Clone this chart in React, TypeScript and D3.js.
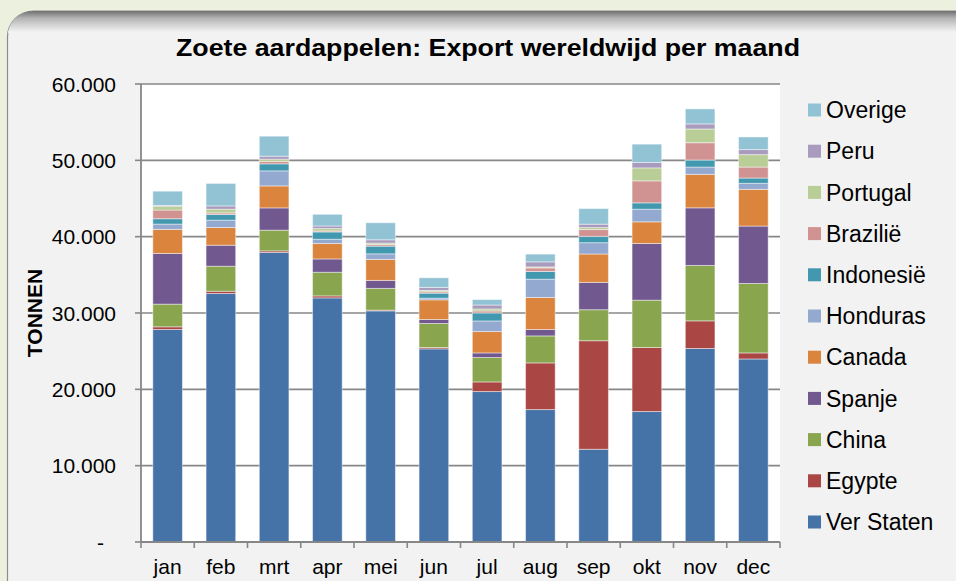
import React from "react";
import * as d3 from "d3";

const months = ["jan", "feb", "mrt", "apr", "mei", "jun", "jul", "aug", "sep", "okt", "nov", "dec"];
const seriesNames = ["Ver Staten", "Egypte", "China", "Spanje", "Canada", "Honduras", "Indonesië", "Brazilië", "Portugal", "Peru", "Overige"];
const seriesColors = ["#4572A7", "#AA4643", "#89A54E", "#71588F", "#DB843D", "#93A9CF", "#4198AF", "#D19392", "#B9CD96", "#A99BBD", "#92C3D4"];

const verStaten = [27840, 32550, 37930, 31980, 30280, 25300, 19710, 17350, 12150, 17090, 25350, 23980];
const egypte = [350, 300, 210, 260, 100, 180, 1260, 6110, 14220, 8390, 3620, 790];
const china = [2970, 3280, 2710, 3100, 2840, 3150, 3200, 3540, 4060, 6200, 7260, 9100];
const spanje = [6640, 2750, 2920, 1740, 1050, 520, 600, 840, 3580, 7430, 7550, 7520];
const canada = [3150, 2320, 2880, 2020, 2750, 2570, 2800, 4190, 3720, 2830, 4380, 4810];
const honduras = [700, 960, 1970, 560, 730, 220, 1390, 2400, 1480, 1660, 960, 790];
const indonesie = [700, 750, 920, 960, 1010, 660, 1050, 1010, 830, 830, 920, 690];
const brazilie = [1140, 210, 310, 130, 200, 180, 260, 470, 890, 2880, 2270, 1440];
const portugal = [500, 480, 300, 310, 200, 180, 260, 130, 260, 1700, 1800, 1630];
const peru = [100, 430, 390, 340, 430, 390, 520, 660, 450, 710, 660, 660];
const overige = [1870, 2940, 2620, 1530, 2230, 1260, 710, 1010, 2040, 2400, 1970, 1650];

const seriesValues = [verStaten, egypte, china, spanje, canada, honduras, indonesie, brazilie, portugal, peru, overige];
const yTicks = [0, 10000, 20000, 30000, 40000, 50000, 60000];

const W = 956;
const H = 581;
const plotLeft = 141;
const plotRight = 780;
const plotTop = 84;
const plotBottom = 542;
const font = "'Liberation Sans', Arial, sans-serif";

export default function App() {
  const x = d3.scaleBand<string>().domain(months).range([plotLeft, plotRight]).paddingInner(0.444).paddingOuter(0.222);
  const y = d3.scaleLinear().domain([0, 60000]).range([plotBottom, plotTop]);

  const table = months.map((m, i) => {
    const row: Record<string, any> = { month: m };
    seriesNames.forEach((s, j) => (row[s] = seriesValues[j][i]));
    return row;
  });
  const stacked = d3.stack<any>().keys(seriesNames)(table);

  const fmt = (v: number) => (v === 0 ? "-" : d3.format(",")(v).replace(/,/g, "."));
  const step = x.step();

  return (
    <svg width={W} height={H} style={{ position: "absolute", left: 0, top: 0, display: "block" }}>
      <defs>
        <linearGradient id="topShade" gradientUnits="userSpaceOnUse" x1="0" y1="11" x2="0" y2="32">
          <stop offset="0" stopColor="#6f6f6f" />
          <stop offset="0.35" stopColor="#b5b5b5" />
          <stop offset="1" stopColor="#f2f2f2" />
        </linearGradient>
        <clipPath id="panelClip">
          <rect x={7.5} y={11} width={975} height={620} rx={26} ry={26} />
        </clipPath>
      </defs>
      <rect x={0} y={0} width={W} height={H} fill="#EBF1DE" />
      <rect x={7.5} y={11} width={975} height={620} rx={26} ry={26} fill="#f2f2f2" stroke="#8c8c8c" strokeWidth={1.2} />
      <g clipPath="url(#panelClip)">
        <rect x={0} y={11} width={W} height={22} fill="url(#topShade)" />
      </g>

      <text x={488} y={56} textAnchor="middle" fontFamily={font} fontWeight="bold" fontSize={24} textLength={624} lengthAdjust="spacingAndGlyphs">
        Zoete aardappelen: Export wereldwijd per maand
      </text>

      <rect x={plotLeft} y={plotTop} width={plotRight - plotLeft} height={plotBottom - plotTop} fill="#ffffff" />

      {yTicks.map((t) => (
        <g key={t}>
          {t > 0 && <line x1={plotLeft} x2={plotRight} y1={y(t)} y2={y(t)} stroke="#878787" strokeWidth={1.6} />}
          <line x1={plotLeft - 6} x2={plotLeft} y1={y(t)} y2={y(t)} stroke="#878787" strokeWidth={1.6} />
          <text x={t === 0 ? 104 : 116} y={y(t)} dy="0.36em" textAnchor="end" fontFamily={font} fontSize={21}>
            {fmt(t)}
          </text>
        </g>
      ))}

      {stacked.map((layer, j) => (
        <g key={seriesNames[j]} fill={seriesColors[j]}>
          {layer.map((d, i) => (
            <rect
              key={months[i]}
              x={x(months[i])}
              y={y(d[1])}
              width={x.bandwidth()}
              height={Math.max(0, y(d[0]) - y(d[1]))}
              stroke="rgba(255,255,255,0.45)"
              strokeWidth={1}
            />
          ))}
        </g>
      ))}

      <line x1={plotLeft} x2={plotLeft} y1={plotTop} y2={plotBottom} stroke="#878787" strokeWidth={1.8} />
      <line x1={plotLeft} x2={plotRight} y1={plotBottom} y2={plotBottom} stroke="#878787" strokeWidth={1.8} />
      {d3.range(months.length + 1).map((i) => (
        <line key={i} x1={plotLeft + i * step} x2={plotLeft + i * step} y1={plotBottom} y2={plotBottom + 6} stroke="#878787" strokeWidth={1.6} />
      ))}
      {months.map((m) => (
        <text key={m} x={(x(m) as number) + x.bandwidth() / 2} y={574} textAnchor="middle" fontFamily={font} fontSize={21}>
          {m}
        </text>
      ))}

      <text transform={`translate(42,${(plotTop + plotBottom) / 2}) rotate(-90)`} textAnchor="middle" fontFamily={font} fontWeight="bold" fontSize={21}>
        TONNEN
      </text>

      {seriesNames
        .map((s, j) => ({ s, j }))
        .reverse()
        .map(({ s, j }, k) => (
          <g key={s} transform={`translate(808,${110 + k * 41.2})`}>
            <rect x={0} y={-6.5} width={13} height={13} fill={seriesColors[j]} />
            <text x={18} y={0} dy="0.36em" fontFamily={font} fontSize={23}>
              {s}
            </text>
          </g>
        ))}
    </svg>
  );
}
